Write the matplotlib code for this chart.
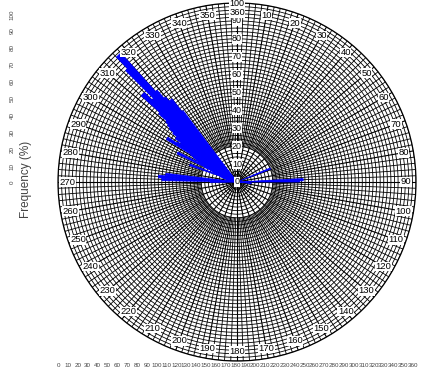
import numpy as np
import matplotlib.pyplot as plt

# Richtung (Grad) und Häufigkeit (%) der einzelnen Balken
directions = [322, 321, 320, 319, 318, 317, 316, 315, 314, 313, 312, 311, 310,
              309, 308, 307, 306, 305, 304, 303, 302, 301, 300, 299, 298, 297,
              296, 295, 294, 293, 292, 290, 288, 285, 280, 276, 274, 272, 270,
              68, 88, 89, 95]
frequency = [50, 59, 52, 62, 68, 97, 88, 66, 60, 72, 58, 52, 50,
             48, 45, 40, 42, 38, 35, 40, 46, 30, 28, 26, 24, 22,
             37, 20, 16, 14, 12, 28, 10, 8, 6, 40, 44, 42, 15,
             20, 37, 35, 8]

# Achsenbeschriftungen
angle_labels = list(range(10, 361, 10))
radial_labels = list(range(0, 101, 10))
x_ticks = list(range(0, 361, 10))
y_ticks = list(range(0, 101, 10))

plt.rcParams['font.family'] = ['Liberation Sans', 'DejaVu Sans']

W, H = 423, 376
fig = plt.figure(figsize=(W / 100, H / 100), dpi=100)

# Polarplot
ax = fig.add_axes([58 / W, 15 / H, 358 / W, 358 / H], projection='polar')
ax.set_theta_zero_location('N')
ax.set_theta_direction(-1)
ax.set_ylim(0, 100)
ax.set_xticks([])
ax.set_yticks([])
ax.grid(False)
ax.spines['polar'].set_linewidth(0.9)

# dichtes Gitter
theta_full = np.linspace(0, 2 * np.pi, 721)
for r in np.arange(2, 101, 2):
    ax.plot(theta_full, np.full_like(theta_full, r), color='black', lw=0.6, zorder=1)
for a in np.arange(0, 360, 2):
    r0 = 0 if a % 10 == 0 else 20
    ax.plot([np.deg2rad(a)] * 2, [r0, 100], color='black',
            lw=0.8 if a % 10 == 0 else 0.6, zorder=1)

# Balken
ax.bar(np.deg2rad(directions), frequency, width=np.deg2rad(2.0),
       color='blue', edgecolor='blue', linewidth=0.5, zorder=3)

box = dict(facecolor='white', edgecolor='none', pad=0.3)
for r in radial_labels:
    ax.text(0, r, str(r), fontsize=6.5, ha='center', va='center', bbox=box, zorder=4)
for a in angle_labels:
    ax.text(np.deg2rad(a), 94.5, str(a), fontsize=6.8, ha='center', va='center',
            bbox=box, zorder=5)

# linke Achse (Frequency)
ax_y = fig.add_axes([58 / W, (H - 182) / H, 355 / W, 170 / H])
ax_y.set_ylim(0, 100)
ax_y.set_xlim(0, 360)
ax_y.patch.set_visible(False)
for s in ax_y.spines.values():
    s.set_visible(False)
ax_y.set_xticks([])
ax_y.set_yticks(y_ticks)
ax_y.set_yticklabels([str(v) for v in y_ticks], rotation=90, fontsize=4.5, color='#444')
ax_y.tick_params(axis='y', length=0, pad=31)
fig.text(26 / W, 1 - 179 / H, 'Frequency (%)', rotation=90, fontsize=8.5,
         color='#444', ha='center', va='center')

# untere Achse
ax_x = fig.add_axes([58 / W, (H - 362) / H, 355 / W, 1 / H])
ax_x.set_xlim(0, 360)
ax_x.patch.set_visible(False)
for s in ax_x.spines.values():
    s.set_visible(False)
ax_x.set_yticks([])
ax_x.set_xticks(x_ticks)
ax_x.set_xticklabels([str(v) for v in x_ticks], fontsize=4.5, color='#444')
ax_x.tick_params(axis='x', length=0, pad=1)

fig.savefig('out.png', dpi=100)
